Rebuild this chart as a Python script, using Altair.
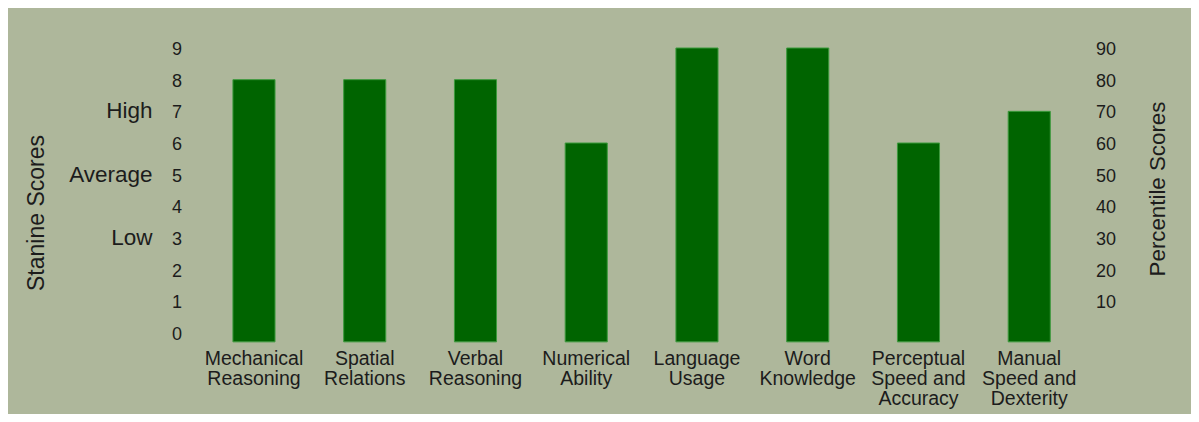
import altair as alt
import pandas as pd

CATEGORIES = [
    "Mechanical\nReasoning",
    "Spatial\nRelations",
    "Verbal\nReasoning",
    "Numerical\nAbility",
    "Language\nUsage",
    "Word\nKnowledge",
    "Perceptual\nSpeed and\nAccuracy",
    "Manual\nSpeed and\nDexterity",
]
STANINE = [8, 8, 8, 6, 9, 9, 6, 7]
PERCENTILE = [s * 10 for s in STANINE]

LEVEL_LABELS = ["High", "Average", "Low"]
LEVEL_VALUES = [7, 5, 3]

STANINE_TICKS = list(range(0, 10))
PERCENTILE_TICKS = list(range(10, 100, 10))

BG = "#aeb79b"
BAR = "#006400"
TXT = "#1c1c1c"
FONT = "Liberation Sans"

df = pd.DataFrame({"cat": CATEGORIES, "stanine": STANINE, "percentile": PERCENTILE})
levels = pd.DataFrame({"label": LEVEL_LABELS, "value": LEVEL_VALUES})

x_enc = alt.X(
    "cat:N",
    sort=CATEGORIES,
    scale=alt.Scale(paddingInner=0.62, paddingOuter=0.31, round=False),
    axis=alt.Axis(
        title=None,
        labelExpr="split(datum.label, '\\n')",
        labelAngle=0,
        labelFontSize=19.5,
        labelFont=FONT,
        labelColor=TXT,
        labelPadding=7,
        labelLineHeight=20,
        labelBaseline="top",
        domain=False,
        ticks=False,
        grid=False,
    ),
)

bars = alt.Chart(df).mark_bar(color=BAR, stroke="#3d9a3d", strokeWidth=1).encode(
    x=x_enc,
    y=alt.Y(
        "stanine:Q",
        scale=alt.Scale(domain=[-0.3, 9.3], nice=False, zero=False),
        axis=alt.Axis(
            title="Stanine Scores",
            values=STANINE_TICKS,
            orient="left",
            labelFontSize=18,
            labelFont=FONT,
            labelColor=TXT,
            labelPadding=17,
            labelOffset=1.5,
            domain=False,
            ticks=False,
            grid=False,
            titleFontSize=23,
            titleFont=FONT,
            titleFontWeight="normal",
            titleColor=TXT,
            titleAngle=270,
            titleBaseline="middle",
            titleAlign="center",
            titleX=-162,
            titleY=174,
        ),
    ),
    y2=alt.datum(-0.28),
)

right = alt.Chart(df).mark_bar(opacity=0).encode(
    x=alt.X("cat:N", sort=CATEGORIES),
    y=alt.Y(
        "percentile:Q",
        scale=alt.Scale(domain=[-3, 93], nice=False, zero=False),
        axis=alt.Axis(
            title="Percentile Scores",
            values=PERCENTILE_TICKS,
            orient="right",
            labelFontSize=18,
            labelFont=FONT,
            labelColor=TXT,
            labelPadding=11,
            labelOffset=1.5,
            domain=False,
            ticks=False,
            grid=False,
            titleFontSize=22.3,
            titleFont=FONT,
            titleFontWeight="normal",
            titleColor=TXT,
            titleAngle=270,
            titleBaseline="middle",
            titleAlign="center",
            titleX=72.5,
            titleY=150,
        ),
    ),
)

level_text = alt.Chart(levels).mark_text(
    align="right", baseline="middle", fontSize=22.5, font=FONT, color=TXT
).encode(
    x=alt.value(-46),
    y=alt.Y("value:Q", scale=alt.Scale(domain=[-0.3, 9.3], nice=False, zero=False), axis=None),
    text="label:N",
)

chart = (
    alt.layer(bars, right, level_text)
    .resolve_scale(y="independent")
    .properties(
        width=886,
        height=304,
        background=BG,
        padding={"left": 190.6, "top": 30.5, "right": 106.4, "bottom": 71.5},
        autosize=alt.AutoSizeParams(type="none"),
    )
    .configure_view(stroke=None)
)

chart.save("out.html", embed_options={"renderer": "svg", "actions": False})
